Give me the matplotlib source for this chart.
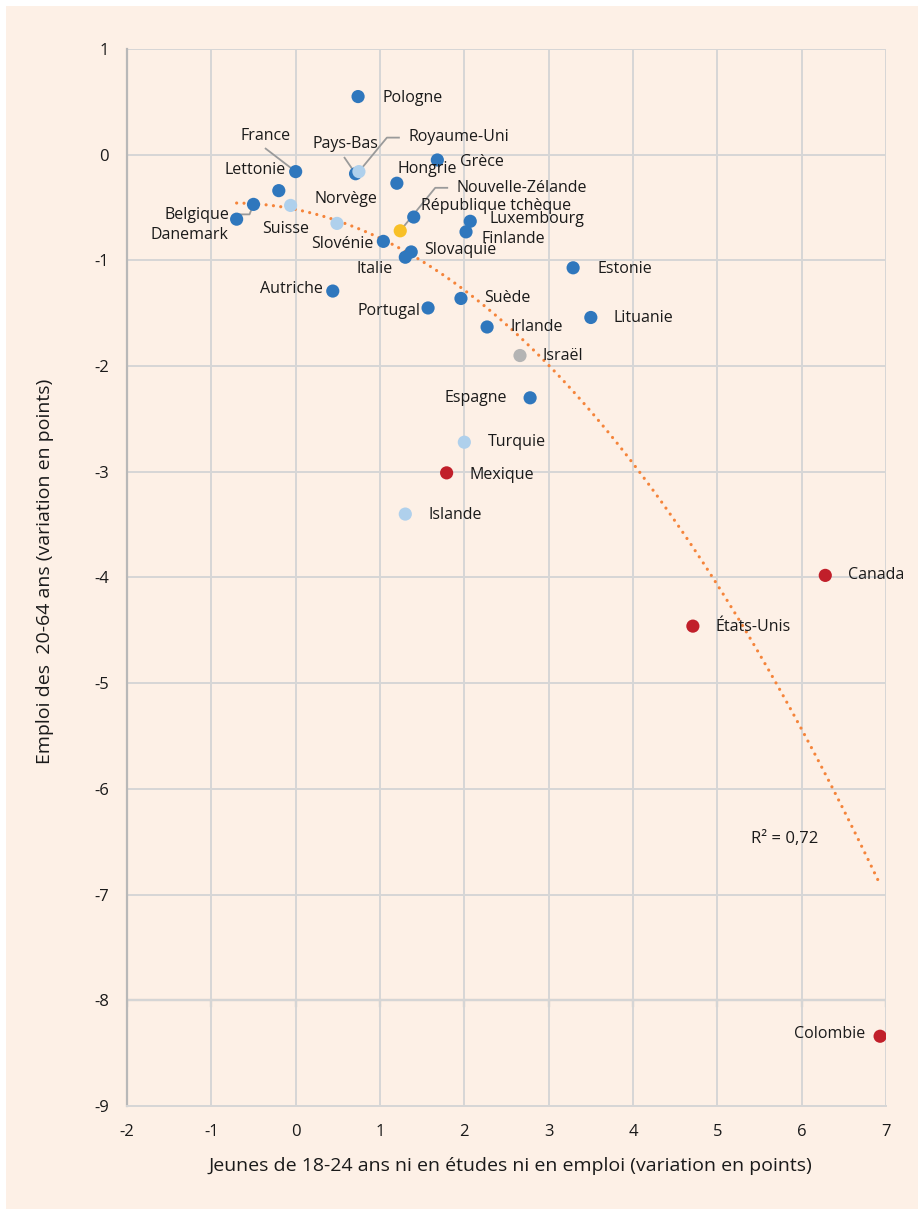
import numpy as np
import matplotlib
matplotlib.use("Agg")
import matplotlib.pyplot as plt
from matplotlib.patches import Rectangle

# data
pays = ["Pologne", "France", "Lettonie", "Pays-Bas", "Royaume-Uni", "Grèce", "Hongrie",
        "Belgique", "Danemark", "Suisse", "Norvège", "Slovénie", "Nouvelle-Zélande",
        "République tchèque", "Luxembourg", "Finlande", "Slovaquie", "Italie", "Estonie",
        "Autriche", "Portugal", "Suède", "Irlande", "Lituanie", "Israël", "Espagne",
        "Turquie", "Mexique", "Islande", "Canada", "États-Unis", "Colombie"]
x_neet = [0.74, 0.00, -0.20, 0.71, 0.75, 1.68, 1.20,
          -0.50, -0.70, -0.06, 0.49, 1.04, 1.24,
          1.40, 2.07, 2.02, 1.37, 1.30, 3.29,
          0.44, 1.57, 1.96, 2.27, 3.50, 2.66, 2.78,
          2.00, 1.79, 1.30, 6.28, 4.71, 6.93]
y_emploi = [0.55, -0.16, -0.34, -0.18, -0.16, -0.05, -0.27,
            -0.47, -0.61, -0.48, -0.65, -0.82, -0.72,
            -0.59, -0.63, -0.73, -0.92, -0.97, -1.07,
            -1.29, -1.45, -1.36, -1.63, -1.54, -1.90, -2.30,
            -2.72, -3.01, -3.40, -3.98, -4.46, -8.34]
groupe = ["UE", "UE", "UE", "UE", "Europe", "UE", "UE",
          "UE", "UE", "Europe", "Europe", "UE", "Océanie",
          "UE", "UE", "UE", "UE", "UE", "UE",
          "UE", "UE", "UE", "UE", "UE", "Autre", "UE",
          "Europe", "Amérique", "Europe", "Amérique", "Amérique", "Amérique"]
r2_text = "R² = 0,72"

couleurs = {"UE": "#2f77bd", "Europe": "#afd0ec", "Amérique": "#c11f2a",
            "Océanie": "#f8c027", "Autre": "#b4b4b4"}

plt.rcParams['font.family'] = ['Open Sans', 'DejaVu Sans']
plt.rcParams['axes.unicode_minus'] = False

fig = plt.figure(figsize=(9.18, 12.09), dpi=100, facecolor="white")
fig.patches.append(Rectangle((6 / 918, 0), 1, 1 - 6 / 1209, transform=fig.transFigure,
                             facecolor="#fdf0e6", edgecolor="none", zorder=-10))
ax = fig.add_axes([127 / 918, 1 - 1106 / 1209, (886 - 127) / 918, (1106 - 49) / 1209])
ax.set_facecolor("#fdf0e6")
ax.set_xlim(-2, 7)
ax.set_ylim(-9, 1)
ax.set_xticks(range(-2, 8))
ax.set_yticks(range(-9, 2))
ax.grid(True, color="#d6d6d6", linewidth=1.4, zorder=0)
for s in ["top", "right"]:
    ax.spines[s].set_visible(False)
ax.spines["left"].set_color("#b8b8b8")
ax.spines["left"].set_linewidth(1.6)
ax.spines["bottom"].set_color("#d6d6d6")
ax.spines["bottom"].set_linewidth(1.4)
ax.tick_params(axis="y", length=0, pad=13, labelsize=12, labelcolor="#1a1a1a")
ax.tick_params(axis="x", length=0, pad=13, labelsize=12, labelcolor="#1a1a1a")

# horizontal axis line drawn at y = -8 with small ticks
ax.axhline(-8, color="#b8b8b8", linewidth=1.6, zorder=1)
for t in range(-2, 8):
    ax.plot([t, t], [-8, -8.05], color="#b8b8b8", linewidth=1.6, zorder=1)

# trend line: order 2 polynomial fit of the points
coef = np.polyfit(x_neet, y_emploi, 2)
xs = np.linspace(min(x_neet), max(x_neet), 300)
ax.plot(xs, np.polyval(coef, xs), color="#f5843a", linewidth=2.3,
        linestyle=(0, (0.01, 2.3)), dash_capstyle="round", zorder=2)

cols = [couleurs[g] for g in groupe]
ax.scatter(x_neet, y_emploi, s=90, c=cols, edgecolors="none", zorder=4)

# label offsets in pixels (dx right, dy up), ha
pos = {
    "Pologne": (24, -1, "left"), "France": (-30, 36, "center"), "Lettonie": (7, 21, "right"),
    "Pays-Bas": (-10, 30, "center"), "Royaume-Uni": (50, 35, "left"), "Grèce": (23, -2, "left"),
    "Hongrie": (1, 14, "left"), "Belgique": (-24, -11, "right"), "Danemark": (-8, -16, "right"),
    "Suisse": (-5, -24, "center"), "Norvège": (9, 24, "center"), "Slovénie": (-10, -3, "right"),
    "Nouvelle-Zélande": (56, 43, "left"), "République tchèque": (7, 11, "left"),
    "Luxembourg": (19, 2, "left"), "Finlande": (15, -7, "left"), "Slovaquie": (13, 2, "left"),
    "Italie": (-31, -12, "center"), "Estonie": (24, -1, "left"), "Autriche": (-10, 2, "right"),
    "Portugal": (-8, -3, "right"), "Suède": (23, 0, "left"), "Irlande": (23, 0, "left"),
    "Lituanie": (23, -1, "left"), "Israël": (23, 0, "left"), "Espagne": (-23, 0, "right"),
    "Turquie": (24, 0, "left"), "Mexique": (23, -2, "left"), "Islande": (23, -1, "left"),
    "Canada": (23, 0, "left"), "États-Unis": (23, -1, "left"), "Colombie": (-15, 2, "right"),
}
for p, xv, yv in zip(pays, x_neet, y_emploi):
    dx, dy, ha = pos[p]
    ax.annotate(p, (xv, yv), xytext=(dx * 0.72, dy * 0.72), textcoords="offset points",
                ha=ha, va="center", fontsize=11.5, color="#1a1a1a", zorder=5)

# leader lines, pixel offsets from the dot
leaders = {
    "France": [(0, 0), (-30, 23)],
    "Pays-Bas": [(0, 0), (-11, 16)],
    "Royaume-Uni": [(0, 0), (28, 34), (40, 34)],
    "Nouvelle-Zélande": [(0, 0), (35, 43), (47, 43)],
    "Belgique": [(0, 0), (-4, -10), (-16, -10)],
}
for p, pts in leaders.items():
    i = pays.index(p)
    px, py = ax.transData.transform((x_neet[i], y_emploi[i]))
    xy = [ax.transData.inverted().transform((px + a, py + b)) for a, b in pts]
    ax.plot([q[0] for q in xy], [q[1] for q in xy], color="#9a9a9a", linewidth=1.3, zorder=3)

ax.text(5.4, -6.47, r2_text, fontsize=12, color="#1a1a1a", va="center")

fig.text(45 / 918, 1 - 571 / 1209, "Emploi des  20-64 ans (variation en points)",
         rotation=90, ha="center", va="center", fontsize=14, color="#1a1a1a")
fig.text(510 / 918, 1 - 1166 / 1209,
         "Jeunes de 18-24 ans ni en études ni en emploi (variation en points)",
         ha="center", va="center", fontsize=14, color="#1a1a1a")

fig.savefig("out.png", dpi=100, facecolor=fig.get_facecolor())
